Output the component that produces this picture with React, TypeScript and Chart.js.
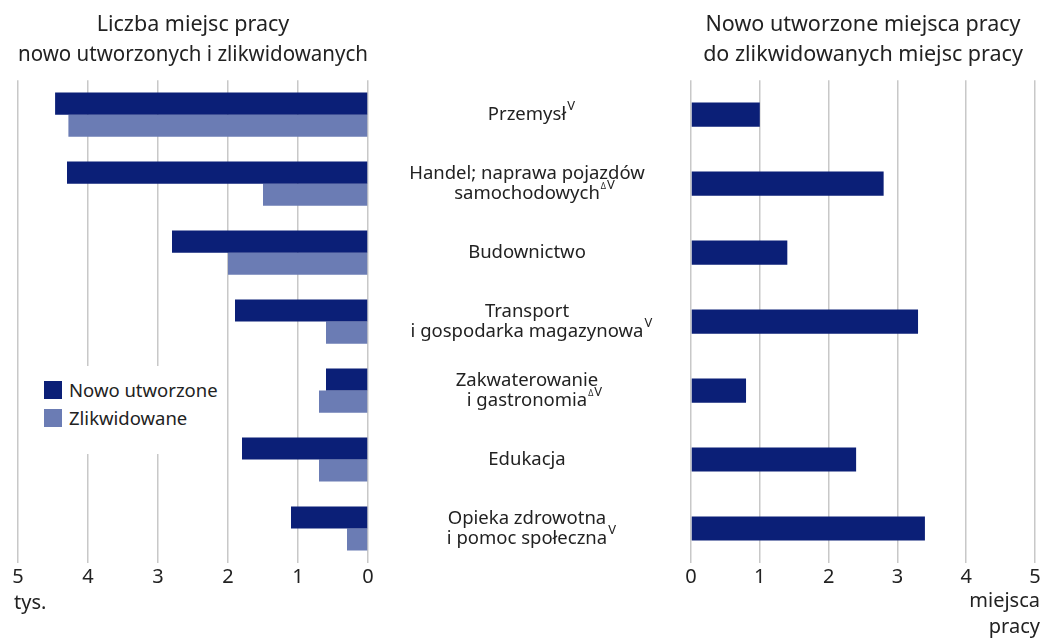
import React, { useEffect, useRef } from 'react';
import { Chart, registerables } from 'chart.js';

Chart.register(...registerables);

const FONT = '"Noto Sans", "DejaVu Sans", sans-serif';
const TEXT = '#222222';
const GRID = '#c8c8c8';
const DARK = '#0b1f77';
const LIGHT = '#6b7cb4';

// category labels (lines) and superscript markers
const categoryLines: string[][] = [
  ['Przemysł'],
  ['Handel; naprawa pojazdów', 'samochodowych'],
  ['Budownictwo'],
  ['Transport', 'i gospodarka magazynowa'],
  ['Zakwaterowanie', 'i gastronomia'],
  ['Edukacja'],
  ['Opieka zdrowotna', 'i pomoc społeczna'],
];
const categorySup: string[] = ['V', 'ΔV', '', 'V', 'ΔV', '', 'V'];
const categoryKeys: string[] = categoryLines.map((l) => l.join(' '));

// left panel: thousands of jobs
const newJobs: number[] = [4.47, 4.3, 2.8, 1.9, 0.6, 1.8, 1.1];
const closedJobs: number[] = [4.28, 1.5, 2.0, 0.6, 0.7, 0.7, 0.3];
// right panel: new jobs per closed job
const ratio: number[] = [1.0, 2.8, 1.4, 3.3, 0.8, 2.4, 3.4];

const leftTitle = ['Liczba miejsc pracy', 'nowo utworzonych i zlikwidowanych'];
const rightTitle = ['Nowo utworzone miejsca pracy', 'do zlikwidowanych miejsc pracy'];
const seriesNames = ['Nowo utworzone', 'Zlikwidowane'];
const leftUnit = 'tys.';
const rightUnit = ['miejsca', 'pracy'];
const axisMin = 0;
const axisMax = 5;

const labelPlugin = {
  id: 'catLabels',
  afterDraw(chart: any) {
    const ctx = chart.ctx;
    const y = chart.scales.y;
    const cx = chart.chartArea.left - 164;
    ctx.save();
    ctx.fillStyle = TEXT;
    ctx.textBaseline = 'middle';
    categoryLines.forEach((lines, i) => {
      const yc = y.getPixelForValue(i);
      const lh = 20;
      const y0 = yc - ((lines.length - 1) * lh) / 2;
      lines.forEach((line, j) => {
        ctx.font = `18.5px ${FONT}`;
        ctx.textAlign = 'center';
        const ly = y0 + j * lh;
        ctx.fillText(line, cx, ly);
        if (j === lines.length - 1 && categorySup[i]) {
          const w = ctx.measureText(line).width;
          let sx = cx + w / 2 + 1;
          ctx.textAlign = 'left';
          for (const ch of categorySup[i]) {
            if (ch === 'Δ') {
              ctx.font = `8px ${FONT}`;
              ctx.fillText(ch, sx, ly - 7);
              sx += ctx.measureText(ch).width + 1;
            } else {
              ctx.font = `13px ${FONT}`;
              ctx.fillText(ch, sx, ly - 8);
              sx += ctx.measureText(ch).width;
            }
          }
        }
      });
    });
    ctx.restore();
  },
};

const titleOpts = (text: string[]) => ({
  display: true,
  fullSize: false,
  text,
  color: TEXT,
  font: { family: FONT, size: 21.5, weight: 'normal' as const, lineHeight: 1.4 },
  padding: { top: 10, bottom: 10 },
});

const xScale = (reverse: boolean) => ({
  type: 'linear' as const,
  reverse,
  min: axisMin,
  max: axisMax,
  ticks: { stepSize: 1, color: TEXT, font: { family: FONT, size: 20 }, padding: 2 },
  grid: { color: GRID, lineWidth: 1.5, drawTicks: false },
  border: { display: false },
});

export default function App() {
  const leftRef = useRef<HTMLCanvasElement>(null);
  const rightRef = useRef<HTMLCanvasElement>(null);

  useEffect(() => {
    const left = new Chart(leftRef.current!, {
      type: 'bar',
      data: {
        labels: categoryKeys,
        datasets: [
          { label: seriesNames[0], data: newJobs, backgroundColor: DARK, categoryPercentage: 0.64, barPercentage: 1 },
          { label: seriesNames[1], data: closedJobs, backgroundColor: LIGHT, categoryPercentage: 0.64, barPercentage: 1 },
        ],
      },
      options: {
        indexAxis: 'y',
        responsive: false,
        maintainAspectRatio: false,
        animation: false,
        layout: { padding: { left: 18, right: 32, top: 0, bottom: 49 } },
        plugins: { legend: { display: false }, tooltip: { enabled: false }, title: titleOpts(leftTitle) },
        scales: {
          x: xScale(true),
          y: { display: false },
        },
      },
    });
    const right = new Chart(rightRef.current!, {
      type: 'bar',
      data: {
        labels: categoryKeys,
        datasets: [{ label: 'ratio', data: ratio, backgroundColor: DARK, categoryPercentage: 0.35, barPercentage: 1 }],
      },
      options: {
        indexAxis: 'y',
        responsive: false,
        maintainAspectRatio: false,
        animation: false,
        layout: { padding: { left: 0, right: 11, top: 0, bottom: 49 } },
        plugins: { legend: { display: false }, tooltip: { enabled: false }, title: titleOpts(rightTitle) },
        scales: {
          x: xScale(false),
          y: {
            display: true,
            ticks: { display: false },
            grid: { display: false },
            border: { display: false },
            afterFit: (s: any) => {
              s.width = 311;
            },
          },
        },
      },
      plugins: [labelPlugin],
    });
    return () => {
      left.destroy();
      right.destroy();
    };
  }, []);

  const txt: React.CSSProperties = { position: 'absolute', fontFamily: FONT, color: TEXT, whiteSpace: 'nowrap' };

  return (
    <div style={{ position: 'fixed', left: 0, top: 0, width: 1046, height: 640, background: '#fff', overflow: 'hidden' }}>
      <canvas ref={leftRef} width={400} height={640} style={{ position: 'absolute', left: 0, top: 0 }} />
      <canvas ref={rightRef} width={666} height={640} style={{ position: 'absolute', left: 380, top: 0 }} />
      <div style={{ position: 'absolute', left: 36, top: 366, width: 188, height: 88, background: '#fff' }}>
        {seriesNames.map((n, i) => (
          <div key={n} style={{ position: 'absolute', left: 8, top: 15 + i * 28, height: 18, display: 'flex', alignItems: 'center' }}>
            <div style={{ width: 18, height: 18, background: i === 0 ? DARK : LIGHT }} />
            <span style={{ marginLeft: 7, fontFamily: FONT, fontSize: 18.5, color: TEXT, lineHeight: '18px' }}>{n}</span>
          </div>
        ))}
      </div>
      <div style={{ ...txt, left: 14, top: 588, fontSize: 20, lineHeight: '28px' }}>{leftUnit}</div>
      <div style={{ ...txt, right: 6, top: 587, fontSize: 20, lineHeight: '26px', textAlign: 'right' }}>
        {rightUnit.map((l) => (
          <div key={l}>{l}</div>
        ))}
      </div>
    </div>
  );
}
